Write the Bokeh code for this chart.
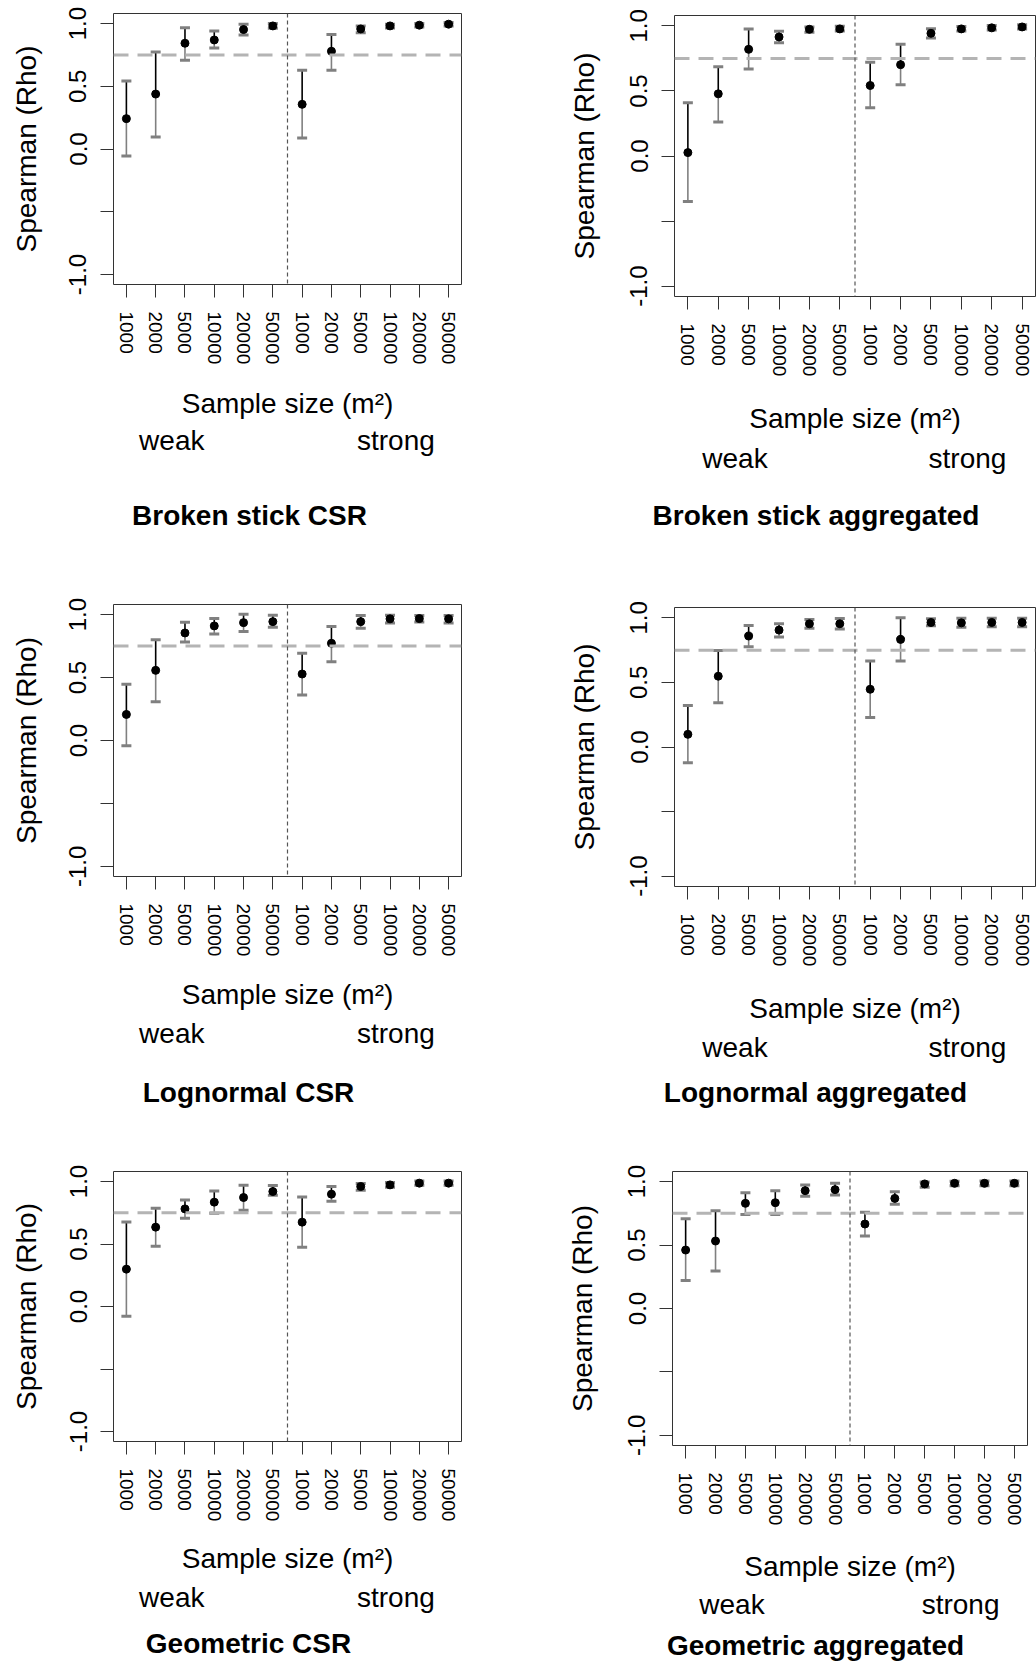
from bokeh.plotting import figure
from bokeh.models import Range1d, FixedTicker, Span
from bokeh.core.properties import value
from bokeh.layouts import column, row
from bokeh.embed import file_html
from bokeh.resources import INLINE

# ---------------- data ----------------
positions = [1, 2, 3, 4, 5, 6, 7, 8, 9, 10, 11, 12]
sample_sizes = ["1000", "2000", "5000", "10000", "20000", "50000",
                "1000", "2000", "5000", "10000", "20000", "50000"]
y_ticks = [-1.0, -0.5, 0.0, 0.5, 1.0]
y_tick_labels = ["-1.0", "", "0.0", "0.5", "1.0"]
group_labels = ["weak", "strong"]
group_x = [2.55, 10.2]
threshold = 0.75
divider = 6.5

titles = ["Broken stick CSR", "Broken stick aggregated",
          "Lognormal CSR", "Lognormal aggregated",
          "Geometric CSR", "Geometric aggregated"]

bs_csr_mean = [0.242, 0.438, 0.843, 0.869, 0.952, 0.981, 0.356, 0.779, 0.957, 0.981, 0.987, 0.995]
bs_csr_hi   = [0.542, 0.774, 0.966, 0.941, 0.995, 1.000, 0.628, 0.912, 0.981, 0.995, 1.000, 1.008]
bs_csr_lo   = [-0.056, 0.096, 0.707, 0.806, 0.909, 0.963, 0.088, 0.628, 0.926, 0.965, 0.973, 0.981]

bs_agg_mean = [0.026, 0.478, 0.820, 0.915, 0.974, 0.977, 0.542, 0.702, 0.943, 0.977, 0.985, 0.992]
bs_agg_hi   = [0.409, 0.686, 0.977, 0.959, 0.992, 0.997, 0.720, 0.859, 0.979, 0.995, 1.003, 1.008]
bs_agg_lo   = [-0.350, 0.262, 0.668, 0.871, 0.951, 0.961, 0.370, 0.548, 0.907, 0.961, 0.969, 0.977]

ln_csr_mean = [0.207, 0.557, 0.854, 0.910, 0.936, 0.944, 0.528, 0.772, 0.944, 0.966, 0.968, 0.966]
ln_csr_hi   = [0.446, 0.801, 0.939, 0.968, 1.003, 0.995, 0.692, 0.905, 0.992, 0.995, 0.992, 0.992]
ln_csr_lo   = [-0.042, 0.308, 0.782, 0.846, 0.865, 0.899, 0.361, 0.626, 0.891, 0.934, 0.942, 0.934]

ln_agg_mean = [0.098, 0.548, 0.859, 0.905, 0.954, 0.954, 0.447, 0.833, 0.964, 0.961, 0.964, 0.964]
ln_agg_hi   = [0.321, 0.748, 0.941, 0.954, 0.987, 0.995, 0.666, 1.000, 0.992, 0.997, 0.997, 0.997]
ln_agg_lo   = [-0.121, 0.342, 0.776, 0.851, 0.920, 0.913, 0.229, 0.666, 0.938, 0.928, 0.931, 0.931]

ge_csr_mean = [0.299, 0.635, 0.781, 0.835, 0.872, 0.920, 0.675, 0.899, 0.960, 0.973, 0.987, 0.987]
ge_csr_hi   = [0.677, 0.787, 0.853, 0.925, 0.971, 0.968, 0.877, 0.960, 0.984, 0.992, 1.005, 1.005]
ge_csr_lo   = [-0.077, 0.483, 0.707, 0.747, 0.771, 0.891, 0.475, 0.843, 0.931, 0.955, 0.971, 0.971]

ge_agg_mean = [0.461, 0.532, 0.829, 0.834, 0.929, 0.937, 0.666, 0.868, 0.982, 0.987, 0.987, 0.987]
ge_agg_hi   = [0.708, 0.771, 0.913, 0.929, 0.974, 0.987, 0.758, 0.921, 0.997, 1.003, 1.005, 1.005]
ge_agg_lo   = [0.221, 0.295, 0.742, 0.742, 0.884, 0.895, 0.571, 0.821, 0.955, 0.968, 0.968, 0.968]

FONT = "Liberation Sans"
GREY = "#808080"
FIG_W = 518
X_LO, X_HI = 0.56, 12.44
AXIS_BOTTOM = 90
TEXT_SHIFT = -10


def make_plot(mean, hi, lo, bl, br, bt, fh, ylab_standoff):
    p = figure(width=FIG_W, height=bt + fh + AXIS_BOTTOM, title=None,
               x_range=Range1d(X_LO, X_HI), y_range=Range1d(-1.08, 1.08),
               output_backend="svg", toolbar_location=None,
               min_border_left=bl, min_border_right=br,
               min_border_top=bt, min_border_bottom=AXIS_BOTTOM)
    p.frame_align = False
    p.xgrid.visible = False
    p.ygrid.visible = False
    p.outline_line_color = "#333333"
    p.outline_line_width = 1
    p.background_fill_color = "white"
    p.border_fill_color = "white"

    xa = p.xaxis[0]
    xa.ticker = FixedTicker(ticks=positions)
    xa.major_label_overrides = {k: s for k, s in zip(positions, sample_sizes)}
    xa.major_label_orientation = "vertical"
    xa.major_label_text_font = FONT
    xa.major_label_text_font_size = "19px"
    xa.major_label_text_color = "black"
    xa.major_label_standoff = 14
    xa.major_tick_out = 13
    xa.major_tick_in = 0
    xa.major_tick_line_color = "#333333"
    xa.minor_tick_line_color = None
    xa.axis_line_color = None

    ya = p.yaxis[0]
    ya.ticker = FixedTicker(ticks=y_ticks)
    ya.major_label_overrides = {k: s for k, s in zip(y_ticks, y_tick_labels)}
    ya.major_label_orientation = "vertical"
    ya.major_label_text_font = FONT
    ya.major_label_text_font_size = "24px"
    ya.major_label_text_color = "black"
    ya.major_label_standoff = 14
    ya.major_tick_out = 13
    ya.major_tick_in = 0
    ya.major_tick_line_color = "#333333"
    ya.minor_tick_line_color = None
    ya.axis_line_color = None
    ya.axis_label = "Spearman (Rho)"
    ya.axis_label_text_font = FONT
    ya.axis_label_text_font_size = "28px"
    ya.axis_label_text_font_style = "normal"
    ya.axis_label_text_color = "black"
    ya.axis_label_standoff = ylab_standoff

    # error bars: lower half grey, upper half black, grey caps
    p.segment(x0=positions, y0=lo, x1=positions, y1=mean, line_color=GREY, line_width=1.6)
    p.segment(x0=positions, y0=mean, x1=positions, y1=hi, line_color="black", line_width=1.6)
    p.scatter(x=positions + positions, y=list(hi) + list(lo), marker="dash",
              size=10, line_color=GREY, line_width=3)
    p.scatter(x=positions, y=mean, marker="circle", size=8,
              fill_color="black", line_color="black")

    p.add_layout(Span(location=threshold, dimension="width", line_color="#b4b4b4",
                      line_width=3, line_dash="15 9"))
    p.add_layout(Span(location=divider, dimension="height", line_color="#555555",
                      line_width=1.2, line_dash="4 3"))
    return p


def make_text(title, h, bl, br, ss_y, weak_y, title_x, title_y):
    t = figure(width=FIG_W, height=h, title=None,
               x_range=Range1d(0, FIG_W), y_range=Range1d(h, 0),
               x_axis_type=None, y_axis_type=None,
               output_backend="svg", toolbar_location=None,
               min_border_left=0, min_border_right=0,
               min_border_top=0, min_border_bottom=0)
    t.frame_align = False
    t.xgrid.visible = False
    t.ygrid.visible = False
    t.outline_line_color = None
    t.background_fill_color = "white"
    t.border_fill_color = "white"
    fw = FIG_W - bl - br
    gx_px = [bl + (g - X_LO) / (X_HI - X_LO) * fw for g in group_x]
    t.text(x=[bl + fw / 2] + gx_px,
           y=[ss_y + TEXT_SHIFT, weak_y + TEXT_SHIFT, weak_y + TEXT_SHIFT],
           text=["Sample size (m²)"] + group_labels,
           text_font=value(FONT), text_font_size=value("28px"),
           text_color="black", text_align="center", text_baseline="alphabetic")
    t.text(x=[title_x], y=[title_y + TEXT_SHIFT], text=[title],
           text_font=value(FONT), text_font_size=value("28px"),
           text_font_style="bold",
           text_color="black", text_align="center", text_baseline="alphabetic")
    return t


# column 1 (left)
p1 = make_plot(bs_csr_mean, bs_csr_hi, bs_csr_lo, 113, 57, 13, 271, 25)
t1 = make_text(titles[0], 186, 113, 57, 39, 76, 249, 151)
p3 = make_plot(ln_csr_mean, ln_csr_hi, ln_csr_lo, 113, 57, 44, 272, 25)
t3 = make_text(titles[2], 159, 113, 57, 38, 77, 248, 136)
p5 = make_plot(ge_csr_mean, ge_csr_hi, ge_csr_lo, 113, 57, 46, 270, 25)
t5 = make_text(titles[4], 133, 113, 57, 37, 76, 248, 122)

# column 2 (right)
p2 = make_plot(bs_agg_mean, bs_agg_hi, bs_agg_lo, 156, 1, 15, 281, 28)
t2 = make_text(titles[1], 174, 156, 1, 42, 82, 297.5, 139)
p4 = make_plot(ln_agg_mean, ln_agg_hi, ln_agg_lo, 156, 1, 47, 279, 28)
t4 = make_text(titles[3], 149, 156, 1, 42, 81, 297, 126)
p6 = make_plot(ge_agg_mean, ge_agg_hi, ge_agg_lo, 154, 9, 46, 274, 28)
t6 = make_text(titles[5], 129, 154, 9, 41, 79, 297, 120)

layout = row(column(p1, t1, p3, t3, p5, t5), column(p2, t2, p4, t4, p6, t6))
open("out.html", "w").write(file_html(layout, INLINE))
